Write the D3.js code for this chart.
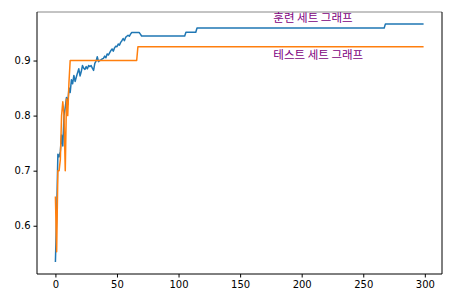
<!DOCTYPE html>
<html>
<head>
<meta charset="utf-8">
<script src="https://cdn.jsdelivr.net/npm/d3@7"></script>
<style>
  body { margin: 0; background: #fff; }
  .tick text { font-family: "DejaVu Sans", sans-serif; font-size: 10px; fill: #000; }
</style>
</head>
<body>
<div id="myChart"></div>
<script>
// training accuracy (epoch -> score)
var trainEpoch = [0,1,2,3,4,5,6,7,8,9,10,11,12,13,14,15,16,17,18,19,20,21,22,23,24,25,26,27,28,29,
  30,31,32,33,34,35,36,37,38,39,40,41,42,43,44,45,46,47,48,49,50,51,52,53,54,55,56,57,58,59,
  60,61,62,63,64,65,66,67,68,69,70,105,106,114,115,267,268,299];
var trainAcc = [0.534,0.62,0.73,0.725,0.735,0.765,0.745,0.80,0.815,0.833,0.82,0.85,0.842,0.865,0.858,0.873,0.862,0.870,0.878,0.885,
  0.872,0.880,0.891,0.886,0.884,0.889,0.885,0.891,0.889,0.891,
  0.886,0.882,0.895,0.899,0.907,0.898,0.900,0.901,0.903,0.904,0.908,0.905,0.912,0.910,0.914,0.918,0.921,0.917,0.923,0.926,
  0.925,0.930,0.928,0.933,0.936,0.940,0.936,0.942,0.944,0.946,
  0.944,0.948,0.951,0.951,0.951,0.951,0.951,0.951,0.951,0.948,0.9445,0.9445,0.9515,0.9515,0.959,0.959,0.9665,0.9665];

// test accuracy
var testEpoch = [0,1,2,3,4,5,6,7,8,9,10,11,12,66,67,299];
var testAcc = [0.653,0.553,0.70,0.70,0.72,0.80,0.825,0.80,0.70,0.83,0.80,0.86,0.90,0.90,0.925,0.925];

var xTicks = [0,50,100,150,200,250,300];
var yTicks = [0.6,0.7,0.8,0.9];

var labels = [
  {text: "훈련 세트 그래프", x: 177, y: 0.970},
  {text: "테스트 세트 그래프", x: 177, y: 0.903}
];

const margin = { top: 12, right: 14, bottom: 31, left: 37 };
const width = 456 - margin.left - margin.right;
const height = 305 - margin.top - margin.bottom;

var svg = d3.select("#myChart")
  .append("svg")
  .attr("width", 456)
  .attr("height", 305)
  .append("g")
  .attr("transform", "translate(" + margin.left + "," + margin.top + ")");

// matplotlib style 5% padding on both axes
var allX = trainEpoch.concat(testEpoch);
var allY = trainAcc.concat(testAcc);
var xMin = d3.min(allX), xMax = d3.max(allX);
var yMin = d3.min(allY), yMax = d3.max(allY);
var xPad = (xMax - xMin) * 0.05, yPad = (yMax - yMin) * 0.05;

var x = d3.scaleLinear().domain([xMin - xPad, xMax + xPad]).range([0, width]);
var y = d3.scaleLinear().domain([yMin - yPad, yMax + yPad]).range([height, 0]);

var xAxis = d3.axisBottom(x).tickValues(xTicks).tickSize(3.5).tickPadding(3).tickFormat(d3.format("d"));
var yAxis = d3.axisLeft(y).tickValues(yTicks).tickSize(3.5).tickPadding(3).tickFormat(d3.format(".1f"));

svg.append("g")
  .attr("transform", "translate(0," + height + ")")
  .call(xAxis)
  .call(g => g.select(".domain").remove());

svg.append("g")
  .call(yAxis)
  .call(g => g.select(".domain").remove());

var line = d3.line()
  .x(function(d) { return x(d[0]); })
  .y(function(d) { return y(d[1]); });

svg.append("path")
  .datum(d3.zip(trainEpoch, trainAcc))
  .attr("d", line)
  .attr("fill", "none")
  .attr("stroke", "#1f77b4")
  .attr("stroke-width", 1.5)
  .attr("stroke-linejoin", "round");

svg.append("path")
  .datum(d3.zip(testEpoch, testAcc))
  .attr("d", line)
  .attr("fill", "none")
  .attr("stroke", "#ff7f0e")
  .attr("stroke-width", 1.5)
  .attr("stroke-linejoin", "round");

// frame
svg.append("line").attr("x1", 0).attr("x2", width).attr("y1", 0).attr("y2", 0)
  .attr("stroke", "#888").attr("stroke-width", 1);
svg.append("line").attr("x1", 0).attr("x2", 0).attr("y1", 0).attr("y2", height)
  .attr("stroke", "#000").attr("stroke-width", 1);
svg.append("line").attr("x1", width).attr("x2", width).attr("y1", 0).attr("y2", height)
  .attr("stroke", "#000").attr("stroke-width", 1);
svg.append("line").attr("x1", 0).attr("x2", width).attr("y1", height).attr("y2", height)
  .attr("stroke", "#000").attr("stroke-width", 1);

svg.selectAll(".note")
  .data(labels)
  .enter()
  .append("text")
  .attr("class", "note")
  .attr("x", function(d) { return x(d.x); })
  .attr("y", function(d) { return y(d.y); })
  .attr("fill", "purple")
  .style("font-family", "'Noto Sans CJK KR', sans-serif")
  .style("font-size", "11.5px")
  .text(function(d) { return d.text; });
</script>
</body>
</html>
